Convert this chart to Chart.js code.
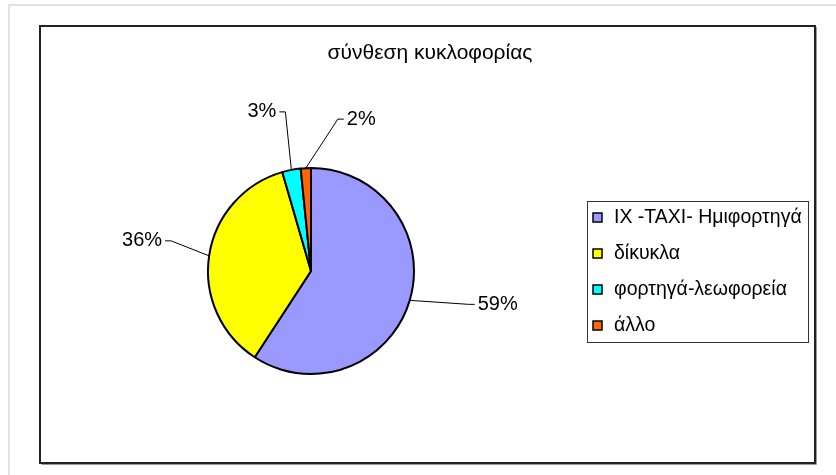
<!DOCTYPE html>
<html>
<head>
<meta charset="utf-8">
<script src="https://cdn.jsdelivr.net/npm/chart.js@4.4.1/dist/chart.umd.min.js"></script>
<style>
html,body{margin:0;padding:0;background:#fff;}
canvas{display:block;}
</style>
</head>
<body>
<canvas id="c" width="836" height="475"></canvas>
<script>
// ---- data ----
const chartTitle = "σύνθεση κυκλοφορίας";
const categories = ["IX -TAXI- Ημιφορτηγά", "δίκυκλα", "φορτηγά-λεωφορεία", "άλλο"];
const shares = [59.2, 36.3, 2.9, 1.6];
const shareLabels = ["59%", "36%", "3%", "2%"];

// ---- styles ----
const sliceColors = ["#9999FF", "#FFFF00", "#00FFFF", "#FF6600"];
const FONT = '"Liberation Sans", Arial, sans-serif';
// leader line elbow offsets (relative to slice edge mid-point), side of label
const leaderCfg = [
  {dx: 59, dy: 4, side: 1},
  {dx: -38, dy: -15, side: -1},
  {dx: -6, dy: -58, side: -1},
  {dx: 32, dy: -49, side: 1}
];

const framePlugin = {
  id: 'frame',
  beforeDraw(chart) {
    const ctx = chart.ctx;
    ctx.save();
    ctx.fillStyle = '#fff';
    ctx.fillRect(0, 0, chart.width, chart.height);
    // outer light frame
    ctx.strokeStyle = '#e2e2e2';
    ctx.lineWidth = 2;
    ctx.beginPath();
    ctx.moveTo(9, 480); ctx.lineTo(9, 5); ctx.lineTo(840, 5);
    ctx.stroke();
    // shadow of chart box
    ctx.strokeStyle = '#999';
    ctx.lineWidth = 1;
    ctx.beginPath();
    ctx.moveTo(41.5, 464.5); ctx.lineTo(816.5, 464.5); ctx.lineTo(816.5, 27);
    ctx.stroke();
    // chart box
    ctx.strokeStyle = '#222';
    ctx.lineWidth = 2;
    ctx.strokeRect(40, 26, 775, 437);
    ctx.restore();
  },
  afterDraw(chart) {
    const ctx = chart.ctx;
    ctx.save();
    // title
    ctx.fillStyle = '#000';
    ctx.font = '21px ' + FONT;
    ctx.textAlign = 'center';
    ctx.textBaseline = 'middle';
    ctx.fillText(chartTitle, 430, 53);

    // leader lines + labels
    const meta = chart.getDatasetMeta(0);
    ctx.lineWidth = 1;
    ctx.strokeStyle = '#000';
    ctx.font = '20px ' + FONT;
    meta.data.forEach((arc, i) => {
      const mid = (arc.startAngle + arc.endAngle) / 2;
      const r = arc.outerRadius;
      const ex = arc.x + Math.cos(mid) * r;
      const ey = arc.y + Math.sin(mid) * r;
      const c = leaderCfg[i];
      const bx = ex + c.dx, by = ey + c.dy;
      const hx = bx + c.side * 6;
      ctx.beginPath();
      ctx.moveTo(ex, ey); ctx.lineTo(bx, by); ctx.lineTo(hx, by);
      ctx.stroke();
      ctx.textAlign = c.side > 0 ? 'left' : 'right';
      ctx.textBaseline = 'middle';
      ctx.fillText(shareLabels[i], hx + c.side * 3, by);
    });

    // legend
    const lx = 587, ly = 201, lw = 221, lh = 141;
    ctx.strokeStyle = '#333';
    ctx.lineWidth = 1;
    ctx.strokeRect(lx + 0.5, ly + 0.5, lw, lh);
    ctx.font = '19.5px ' + FONT;
    ctx.textAlign = 'left';
    ctx.textBaseline = 'middle';
    categories.forEach((name, i) => {
      const cy = 217 + i * 36;
      ctx.fillStyle = sliceColors[i];
      ctx.fillRect(593, cy - 4, 9, 9);
      ctx.strokeStyle = '#000';
      ctx.lineWidth = 1.5;
      ctx.strokeRect(593, cy - 4, 9, 9);
      ctx.fillStyle = '#000';
      ctx.fillText(name, 614, cy + 1);
    });
    ctx.restore();
  }
};

new Chart(document.getElementById('c'), {
  type: 'pie',
  data: {
    labels: categories,
    datasets: [{
      data: shares,
      backgroundColor: sliceColors,
      borderColor: '#000',
      borderWidth: 2
    }]
  },
  options: {
    responsive: false,
    animation: false,
    layout: { padding: { left: 207, right: 421, top: 167, bottom: 100 } },
    plugins: {
      legend: { display: false },
      title: { display: false },
      tooltip: { enabled: false }
    }
  },
  plugins: [framePlugin]
});
</script>
</body>
</html>
